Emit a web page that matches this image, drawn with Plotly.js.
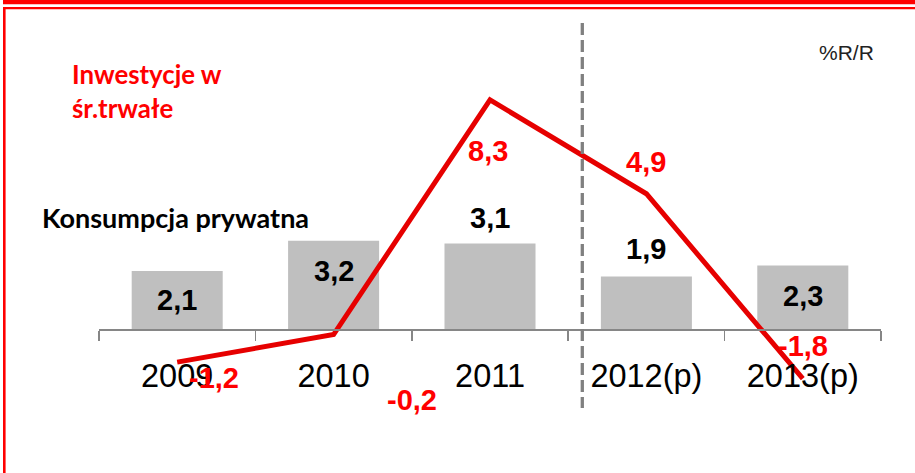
<!DOCTYPE html>
<html>
<head>
<meta charset="utf-8">
<script src="https://cdn.plot.ly/plotly-3.0.1.min.js"></script>
<style>
html,body{margin:0;padding:0;background:#fff;}
#chart{width:915px;height:473px;}
</style>
</head>
<body>
<div id="chart"></div>
<script>
// ---- data ----
const years = ['2009', '2010', '2011', '2012(p)', '2013(p)'];
const consumption = [2.1, 3.2, 3.1, 1.9, 2.3];      // Konsumpcja prywatna (bars)
const investment = [-1.2, -0.2, 8.3, 4.9, -1.8];    // Inwestycje w śr.trwałe (line)
const seriesNames = ['Konsumpcja prywatna', 'Inwestycje w<br>śr.trwałe'];
const unitLabel = '%R/R';

// ---- label placement (pixels, style only) ----
const barLabelShift = [-29, -30, 25.5, 28, -30];
const lineLabelShift = [[37, -16], [78, -65], [-2, -51], [0, 32], [0, 33]];

// ---- geometry ----
const W = 915, H = 473;
const M = {l: 99, r: 34, t: 20, b: 13};
const PW = W - M.l - M.r, PH = H - M.t - M.b;
const pxPerUnit = 27.6;
const yMax = (329 - M.t) / pxPerUnit;
const yMin = -((H - M.b) - 329) / pxPerUnit;
const X = px => (px - M.l) / PW;
const Y = py => ((H - M.b) - py) / PH;

const fmt = v => v.toFixed(1).replace('.', ',');

const RED = '#FF0000';
const LINE_RED = '#E60000';
const numFont = 'Liberation Sans, Arial, sans-serif';
const legFont = 'Lato, Calibri, sans-serif';
const valueSize = 29;

const traces = [
  {
    type: 'bar', x: years, y: consumption, name: seriesNames[0],
    marker: {color: '#BFBFBF', line: {width: 0}},
    hoverinfo: 'skip'
  },
  {
    type: 'scatter', mode: 'lines', x: years, y: investment, name: seriesNames[1],
    line: {color: LINE_RED, width: 5},
    hoverinfo: 'skip'
  }
];

const annotations = [];
years.forEach((yr, i) => {
  // category axis: use the category index so numeric-looking names are not read as numbers
  annotations.push({
    xref: 'x', yref: 'y', x: i, y: consumption[i], text: '<b>' + fmt(consumption[i]) + '</b>',
    showarrow: false, xanchor: 'center', yanchor: 'middle', yshift: barLabelShift[i],
    font: {family: numFont, size: valueSize, color: '#000'}
  });
  annotations.push({
    xref: 'x', yref: 'y', x: i, y: investment[i], text: '<b>' + fmt(investment[i]) + '</b>',
    showarrow: false, xanchor: 'center', yanchor: 'middle',
    xshift: lineLabelShift[i][0], yshift: lineLabelShift[i][1],
    font: {family: numFont, size: valueSize, color: RED}
  });
});
annotations.push({
  xref: 'paper', yref: 'paper', x: X(70), y: Y(91), text: '<b>' + seriesNames[1] + '</b>',
  showarrow: false, xanchor: 'left', yanchor: 'middle', align: 'left',
  font: {family: legFont, size: 25.8, color: RED}
});
annotations.push({
  xref: 'paper', yref: 'paper', x: X(40), y: Y(217), text: '<b>' + seriesNames[0] + '</b>',
  showarrow: false, xanchor: 'left', yanchor: 'middle', align: 'left',
  font: {family: legFont, size: 27, color: '#000'}
});
annotations.push({
  xref: 'paper', yref: 'paper', x: X(817), y: Y(52), text: unitLabel,
  showarrow: false, xanchor: 'left', yanchor: 'middle',
  font: {family: numFont, size: 21, color: '#222'}
});

const shapes = [
  // frame: thick top band, thin top line, left line
  {type: 'rect', xref: 'paper', yref: 'paper', x0: X(3), x1: X(916), y0: Y(0), y1: Y(4.2),
   fillcolor: RED, line: {width: 0}, layer: 'above'},
  {type: 'rect', xref: 'paper', yref: 'paper', x0: X(3), x1: X(916), y0: Y(7), y1: Y(9.3),
   fillcolor: RED, line: {width: 0}, layer: 'above'},
  {type: 'rect', xref: 'paper', yref: 'paper', x0: X(3), x1: X(5.6), y0: Y(7), y1: Y(474),
   fillcolor: RED, line: {width: 0}, layer: 'above'},
  // forecast separator
  {type: 'line', xref: 'paper', yref: 'paper', x0: X(582.3), x1: X(582.3), y0: Y(23), y1: Y(408),
   line: {color: '#808080', width: 3.3, dash: '12px,5px'}, layer: 'above'}
];

const layout = {
  width: W, height: H,
  margin: M,
  paper_bgcolor: '#fff', plot_bgcolor: 'rgba(0,0,0,0)',
  showlegend: false,
  bargap: 0.418,
  xaxis: {
    type: 'category', range: [-0.5, 4.5], fixedrange: true,
    anchor: 'free', position: (0 - yMin) / (yMax - yMin),
    showline: true, linecolor: '#868686', linewidth: 1.5,
    ticks: 'outside', tickson: 'boundaries', ticklen: 10, tickwidth: 1.5, tickcolor: '#868686',
    ticklabelstandoff: 17,
    tickfont: {family: numFont, size: 32.5, color: '#000'},
    showgrid: false, zeroline: false
  },
  yaxis: {
    range: [yMin, yMax], fixedrange: true,
    showgrid: false, zeroline: false, showline: false, showticklabels: false, ticks: ''
  },
  annotations: annotations,
  shapes: shapes
};

Plotly.newPlot('chart', traces, layout, {staticPlot: true, displayModeBar: false});
</script>
</body>
</html>
